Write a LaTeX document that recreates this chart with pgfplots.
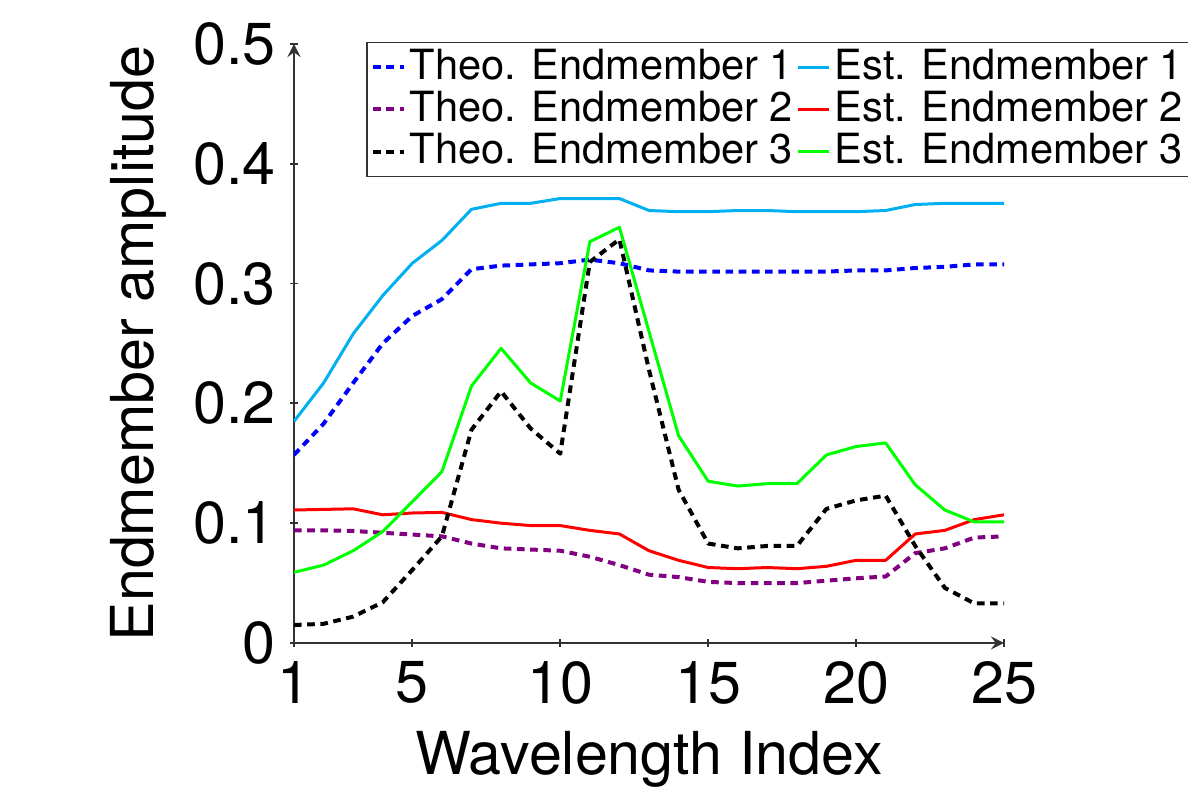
\documentclass[border=0pt]{standalone}
\usepackage{fontspec}
\setmainfont{TeX Gyre Heros}
\usepackage{pgfplots}
\usepackage{pgfplotstable}
\pgfplotsset{compat=1.18}

\definecolor{estcyan}{RGB}{0,176,240}
\definecolor{theopurple}{RGB}{128,0,128}

% wavelength index, theoretical (t) and estimated (e) endmembers
\pgfplotstableread{
x   t1     e1     t2      e2      t3     e3
1   0.157  0.185  0.094   0.111   0.015  0.059
2   0.183  0.217  0.094   0.1115  0.016  0.065
3   0.217  0.258  0.0935  0.112   0.022  0.077
4   0.250  0.290  0.092   0.107   0.034  0.093
5   0.273  0.317  0.0905  0.1085  0.061  0.118
6   0.287  0.336  0.089   0.109   0.089  0.143
7   0.312  0.362  0.083   0.103   0.178  0.2145
8   0.315  0.367  0.079   0.100   0.210  0.246
9   0.316  0.367  0.078   0.098   0.179  0.217
10  0.317  0.371  0.077   0.098   0.158  0.202
11  0.320  0.371  0.072   0.094   0.318  0.335
12  0.317  0.371  0.065   0.091   0.337  0.347
13  0.311  0.361  0.057   0.077   0.228  0.260
14  0.310  0.360  0.055   0.069   0.128  0.173
15  0.310  0.360  0.051   0.063   0.083  0.135
16  0.310  0.361  0.050   0.062   0.079  0.131
17  0.310  0.361  0.050   0.063   0.081  0.133
18  0.310  0.360  0.050   0.062   0.081  0.133
19  0.310  0.360  0.052   0.064   0.112  0.157
20  0.311  0.360  0.054   0.069   0.119  0.164
21  0.311  0.361  0.0555  0.069   0.123  0.167
22  0.313  0.366  0.075   0.091   0.081  0.132
23  0.314  0.367  0.079   0.094   0.046  0.111
24  0.316  0.367  0.088   0.103   0.033  0.101
25  0.316  0.367  0.089   0.107   0.033  0.101
}\datatable

\begin{document}
\begin{tikzpicture}
    \begin{axis}[
        % Plot dimensions
        scale only axis,
        width  = 177.5pt,
        height = 149.75pt,
        % Axes
        axis lines = left,
        axis line style = {black!80, line width=0.45pt},
        xmin = 1, xmax = 25,
        ymin = 0, ymax = 0.5,
        xtick = {1,5,10,15,20,25},
        ytick = {0,0.1,0.2,0.3,0.4,0.5},
        tick align = center,
        major tick length = 2pt,
        tick style = {black!80, line width=0.45pt},
        /pgf/number format/assume math mode=true,
        tick label style = {font=\fontsize{14.8}{17}\selectfont},
        % Labels
        xlabel = {Wavelength Index},
        ylabel = {Endmember amplitude},
        label style = {font=\fontsize{14.8}{17}\selectfont},
        % Legend
        legend columns = 2,
        legend cell align = left,
        legend style = {
            at = {(0.102,1.004)},
            anchor = north west,
            font = \fontsize{10.4}{12}\selectfont,
            draw = black!80,
            inner xsep = 1pt,
            inner ysep = 0.9pt,
            nodes = {inner xsep=1pt, inner ysep=0.75pt, text depth=0.15em},
        },
        legend image code/.code = {
            \draw[#1] plot coordinates {(0cm,0cm) (0.27cm,0cm)};
        },
        every axis plot/.append style = {line join=round},
    ]

        \addplot[blue, line width=1pt, dash pattern=on 1.9pt off 1.4pt]
            table[x=x, y=t1] {\datatable};
        \addplot[estcyan, line width=0.75pt]
            table[x=x, y=e1] {\datatable};
        \addplot[theopurple, line width=1pt, dash pattern=on 1.9pt off 1.4pt]
            table[x=x, y=t2] {\datatable};
        \addplot[red, line width=0.75pt]
            table[x=x, y=e2] {\datatable};
        \addplot[black, line width=1pt, dash pattern=on 1.9pt off 1.4pt]
            table[x=x, y=t3] {\datatable};
        \addplot[green, line width=0.75pt]
            table[x=x, y=e3] {\datatable};

        \legend{Theo. Endmember 1, Est. Endmember 1,
                Theo. Endmember 2, Est. Endmember 2,
                Theo. Endmember 3, Est. Endmember 3}
    \end{axis}
    % page size as in the reference
    \pgfresetboundingbox
    \useasboundingbox (current axis.south west) ++(-73.5pt,-36.25pt)
        rectangle ++(297pt,197pt);
\end{tikzpicture}
\end{document}
